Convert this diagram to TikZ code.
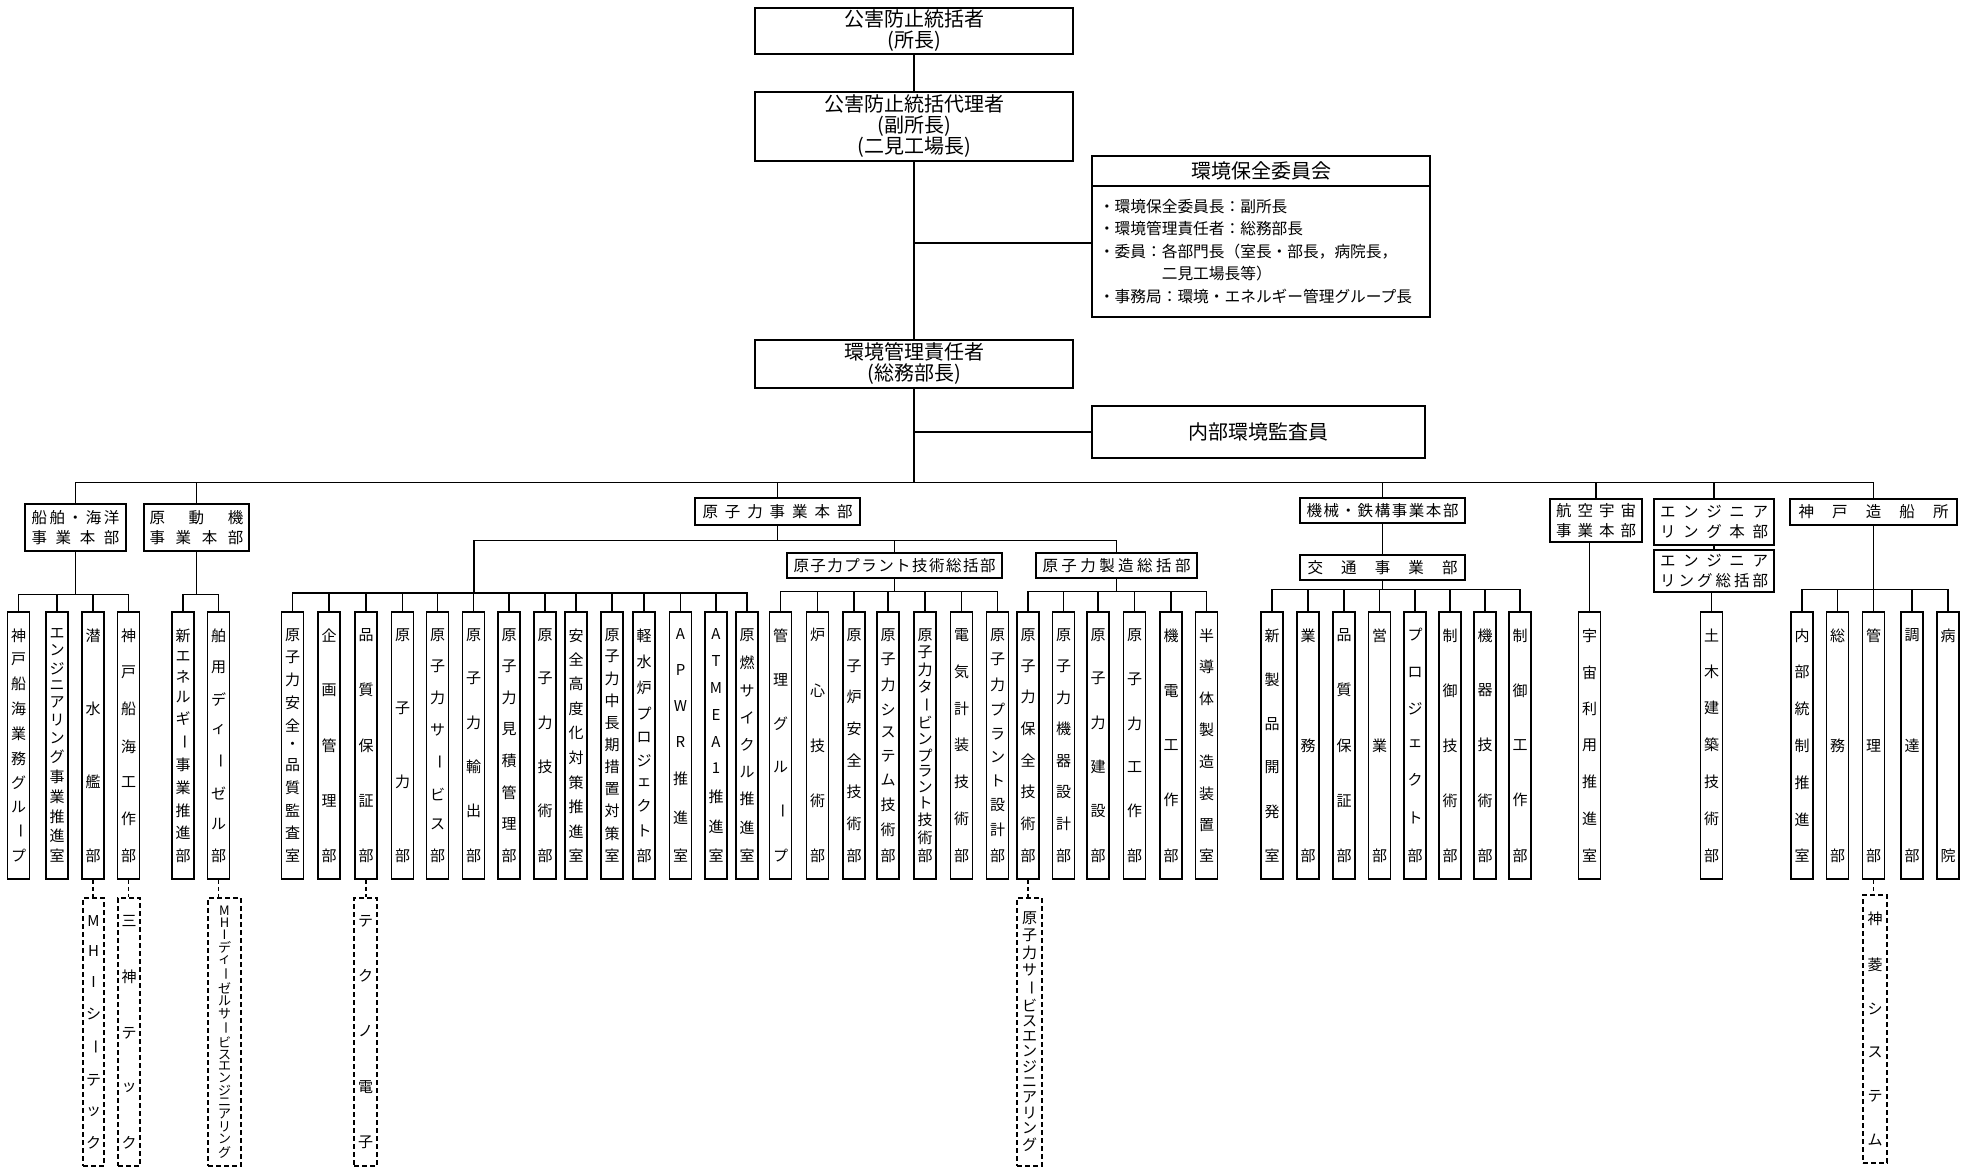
\documentclass[tikz,border=0pt]{standalone}
\usepackage{fontspec}
\setmainfont{Noto Sans CJK JP}
\usepackage{graphicx}
\usetikzlibrary{calc}

% stacked (vertical) and spread (horizontal) characters
\ExplSyntaxOn
\cs_new_protected:Npn \org_vchars:nn #1#2
  {
    \vbox_to_ht:nn {#1}
      {
        \offinterlineskip
        \tl_map_inline:nn {#2}
          {
            \hbox_to_wd:nn {0pt}
              { \hss \str_if_eq:nnTF {##1} {ー} { \rotatebox[origin=c]{-90}{ー} } {##1} \hss }
            \vfill
          }
        \skip_vertical:n {0pt~plus~-1fill}
      }
  }
\NewDocumentCommand \vchars { m m } { \exp_args:Nno \org_vchars:nn {#1} {#2} }
\cs_new_protected:Npn \org_hchars:nn #1#2
  {
    \hbox_to_wd:nn {#1}
      {
        \tl_map_inline:nn {#2} { ##1 \hfill }
        \skip_horizontal:n {0pt~plus~-1fill}
      }
  }
\NewDocumentCommand \hchars { m m } { \exp_args:Nno \org_hchars:nn {#1} {#2} }
\ExplSyntaxOff

\newcommand\fbig{\fontsize{20}{21}\selectfont}
\newcommand\fhead{\fontsize{15.5}{20}\selectfont}
\newcommand\fbody{\fontsize{15.7}{22.5}\selectfont}
\newcommand\fvert{\fontsize{15}{15}\selectfont}
\newcommand\ftiny{\fontsize{13}{13}\selectfont}

\begin{document}
\begin{tikzpicture}[x=1pt, y=-1pt,
  box/.style={draw, line width=1.5pt, inner sep=0pt},
  vbox/.style={box, minimum width=22pt, minimum height=267pt, font=\fvert},
  subco/.style={draw, line width=1.2pt, dash pattern=on 5pt off 3pt, inner sep=0pt, minimum height=268pt, font=\fvert},
  conn/.style={line width=1.2pt},
  dconn/.style={conn, dash pattern=on 4pt off 3pt}]

  % Canvas
  \fill[white] (0,0) rectangle (1972,1169);
  \useasboundingbox (0,0) rectangle (1972,1169);

  % Top management
  \node[box, minimum width=318pt, minimum height=46pt, align=center, font=\fbig] (top) at (914,31) {公害防止統括者\\(所長)};
  \node[box, minimum width=318pt, minimum height=69pt, align=center, font=\fbig] (deputy) at (914,126.5) {公害防止統括代理者\\(副所長)\\(二見工場長)};
  \node[box, minimum width=318pt, minimum height=48pt, align=center, font=\fbig] (envmgr) at (914,364) {環境管理責任者\\(総務部長)};

  % Committee and auditors
  \node[box, minimum width=338pt, minimum height=30pt, font=\fbig] (comhead) at (1261,171) {環境保全委員会};
  \node[box, minimum width=338pt, minimum height=131pt, text width=324pt, align=left, font=\fbody] (combody) at (1261,251.5)
    {・環境保全委員長：副所長\\・環境管理責任者：総務部長\\・委員：各部門長（室長・部長，病院長，\\\hspace*{4em}二見工場長等）\\・事務局：環境・エネルギー管理グループ長};
  \node[box, minimum width=333pt, minimum height=52pt, font=\fbig] (audit) at (1258.5,432) {内部環境監査員};

  \draw[conn] (top.south) -- (deputy.north);
  \draw[conn] (deputy.south) -- (envmgr.north);
  \coordinate (comj) at ($(comhead.north west)!0.54!(combody.south west)$);
  \draw[conn] (comj) -- (comj -| deputy.south);
  \draw[conn] (audit.west) -- (audit.west -| envmgr.south);

  % Divisions
  \node[box, minimum width=101pt, minimum height=47pt, align=center, font=\fhead] (hqship) at (75.5,527.5) {\hchars{88pt}{船舶・海洋}\\\hchars{88pt}{事業本部}};
  \node[box, minimum width=105pt, minimum height=47pt, align=center, font=\fhead] (hqprime) at (196.5,527.5) {\hchars{94pt}{原動機}\\\hchars{94pt}{事業本部}};
  \node[box, minimum width=165pt, minimum height=27pt, font=\fhead] (hqnuc) at (777.5,511.5) {\hchars{150pt}{原子力事業本部}};
  \node[box, minimum width=215pt, minimum height=25pt, font=\fhead] (nucplant) at (894.5,565.5) {\hchars{202pt}{原子力プラント技術総括部}};
  \node[box, minimum width=161pt, minimum height=25pt, font=\fhead] (nucmfg) at (1116.5,565.5) {\hchars{148pt}{原子力製造総括部}};
  \node[box, minimum width=165pt, minimum height=25pt, font=\fhead] (hqmach) at (1382.5,510.5) {\hchars{152pt}{機械・鉄構事業本部}};
  \node[box, minimum width=165pt, minimum height=25pt, font=\fhead] (traffic) at (1382.5,567.5) {\hchars{150pt}{交通事業部}};
  \node[box, minimum width=92pt, minimum height=43pt, align=center, font=\fhead] (hqaero) at (1596,520.5) {\hchars{80pt}{航空宇宙}\\\hchars{80pt}{事業本部}};
  \node[box, minimum width=120pt, minimum height=46pt, align=center, font=\fhead] (hqeng) at (1714,522) {\hchars{108pt}{エンジニア}\\\hchars{108pt}{リング本部}};
  \node[box, minimum width=120pt, minimum height=42pt, align=center, font=\fhead] (enggen) at (1714,571) {\hchars{108pt}{エンジニア}\\\hchars{108pt}{リング総括部}};
  \node[box, minimum width=167pt, minimum height=26pt, font=\fhead] (kobe) at (1873.5,512) {\hchars{150pt}{神戸造船所}};

  \path (envmgr.south) ++(0,94) coordinate (mainj);
  \draw[conn] (envmgr.south) -- (mainj);
  \foreach \c in {hqship,hqprime,hqnuc,hqmach,hqaero,hqeng,kobe}
    \draw[conn] (mainj) -| (\c.north);

  % Departments (vertical boxes)
  \foreach \x/\nm/\lbl in {18.5/s1/神戸船海業務グループ, 57/s2/エンジニアリング事業推進室, 93/s3/潜水艦部, 128.5/s4/神戸船海工作部,
      183/p1/新エネルギー事業推進部, 218.5/p2/舶用ディーゼル部,
      292.5/n1/原子力安全・品質監査室, 329/n2/企画管理部, 366/n3/品質保証部, 402.5/n4/原子力部, 437.5/n5/原子力サービス部,
      473.5/n6/原子力輸出部, 509/n7/原子力見積管理部, 545/n8/原子力技術部, 576/n9/安全高度化対策推進室, 612/n10/原子力中長期措置対策室,
      644/n11/軽水炉プロジェクト部, 680.5/n12/APWR推進室, 716/n13/ATMEA1推進室, 747/n14/原燃サイクル推進室,
      780.5/q1/管理グループ, 817.5/q2/炉心技術部, 854/q3/原子炉安全技術部, 888/q4/原子力システム技術部,
      925/q5/原子力タービンプラント技術部, 961.5/q6/電気計装技術部, 997.5/q7/原子力プラント設計部,
      1028/m1/原子力保全技術部, 1063.5/m2/原子力機器設計部, 1098/m3/原子力建設部, 1134.5/m4/原子力工作部, 1171/m5/機電工作部, 1206.5/m6/半導体製造装置室,
      1272/t1/新製品開発室, 1308/t2/業務部, 1344/t3/品質保証部, 1379.5/t4/営業部, 1415/t5/プロジェクト部, 1450/t6/制御技術部, 1485/t7/機器技術部, 1520/t8/制御工作部,
      1589.5/a1/宇宙利用推進室, 1711.5/e1/土木建築技術部,
      1802/k1/内部統制推進室, 1837.5/k2/総務部, 1873.5/k3/管理部, 1912/k4/調達部, 1948/k5/病院}
    \node[vbox] (\nm) at (\x,745.5) {\vchars{234pt}{\lbl}};

  % Connectors to departments
  \path (hqship.south) ++(0,43) coordinate (sj);
  \draw[conn] (hqship.south) -- (sj);
  \foreach \c in {s1,s2,s3,s4} \draw[conn] (sj) -| (\c.north);

  \path (hqprime.south) ++(0,43) coordinate (pj);
  \draw[conn] (hqprime.south) -- (pj);
  \foreach \c in {p1,p2} \draw[conn] (pj) -| (\c.north);

  \path (hqnuc.south) ++(0,15) coordinate (nbus);
  \coordinate (nj) at (474,593);
  \draw[conn] (hqnuc.south) -- (nbus) -| (nucmfg.north);
  \draw[conn] (nbus) -| (nucplant.north);
  \draw[conn] (nbus) -| (nj);
  \foreach \c in {n1,n2,n3,n4,n5,n6,n7,n8,n9,n10,n11,n12,n13,n14} \draw[conn] (nj) -| (\c.north);

  \path (nucplant.south) ++(0,13) coordinate (qj);
  \draw[conn] (nucplant.south) -- (qj);
  \foreach \c in {q1,q2,q3,q4,q5,q6,q7} \draw[conn] (qj) -| (\c.north);

  \path (nucmfg.south) ++(0,13) coordinate (mj);
  \draw[conn] (nucmfg.south) -- (mj);
  \foreach \c in {m1,m2,m3,m4,m5,m6} \draw[conn] (mj) -| (\c.north);

  \draw[conn] (hqmach.south) -- (traffic.north);
  \path (traffic.south) ++(0,9) coordinate (tj);
  \draw[conn] (traffic.south) -- (tj);
  \foreach \c in {t1,t2,t3,t4,t5,t6,t7,t8} \draw[conn] (tj) -| (\c.north);

  \draw[conn] (a1.north) -- (a1.north |- hqaero.south);
  \draw[conn] (hqeng.south) -- (enggen.north);
  \draw[conn] (e1.north) -- (e1.north |- enggen.south);

  \path (kobe.south) ++(0,64) coordinate (kj);
  \draw[conn] (kobe.south) -- (kj);
  \foreach \c in {k1,k2,k3,k4,k5} \draw[conn] (kj) -| (\c.north);

  % Affiliated companies (dashed)
  \node[subco, minimum width=21pt] (d1) at (93.5,1032) {\vchars{234pt}{MHIシーテック}};
  \node[subco, minimum width=22pt] (d2) at (129,1032) {\vchars{234pt}{三神テック}};
  \node[subco, minimum width=33pt, font=\ftiny] (d3) at (224.5,1032) {\vchars{252pt}{MHIディーゼルサービスエンジニアリング}};
  \node[subco, minimum width=23pt] (d4) at (365.5,1032) {\vchars{234pt}{テクノ電子}};
  \node[subco, minimum width=25pt] (d5) at (1029.5,1032) {\vchars{240pt}{原子力サービスエンジニアリング}};
  \node[subco, minimum width=24pt] (d6) at (1875,1029) {\vchars{234pt}{神菱システム}};

  \draw[dconn] (s3.south) -- (s3.south |- d1.north);
  \draw[dconn] (s4.south) -- (s4.south |- d2.north);
  \draw[dconn] (p2.south) -- (p2.south |- d3.north);
  \draw[dconn] (n3.south) -- (n3.south |- d4.north);
  \draw[dconn] (m1.south) -- (m1.south |- d5.north);
  \draw[dconn] (k3.south) -- (k3.south |- d6.north);

\end{tikzpicture}
\end{document}
